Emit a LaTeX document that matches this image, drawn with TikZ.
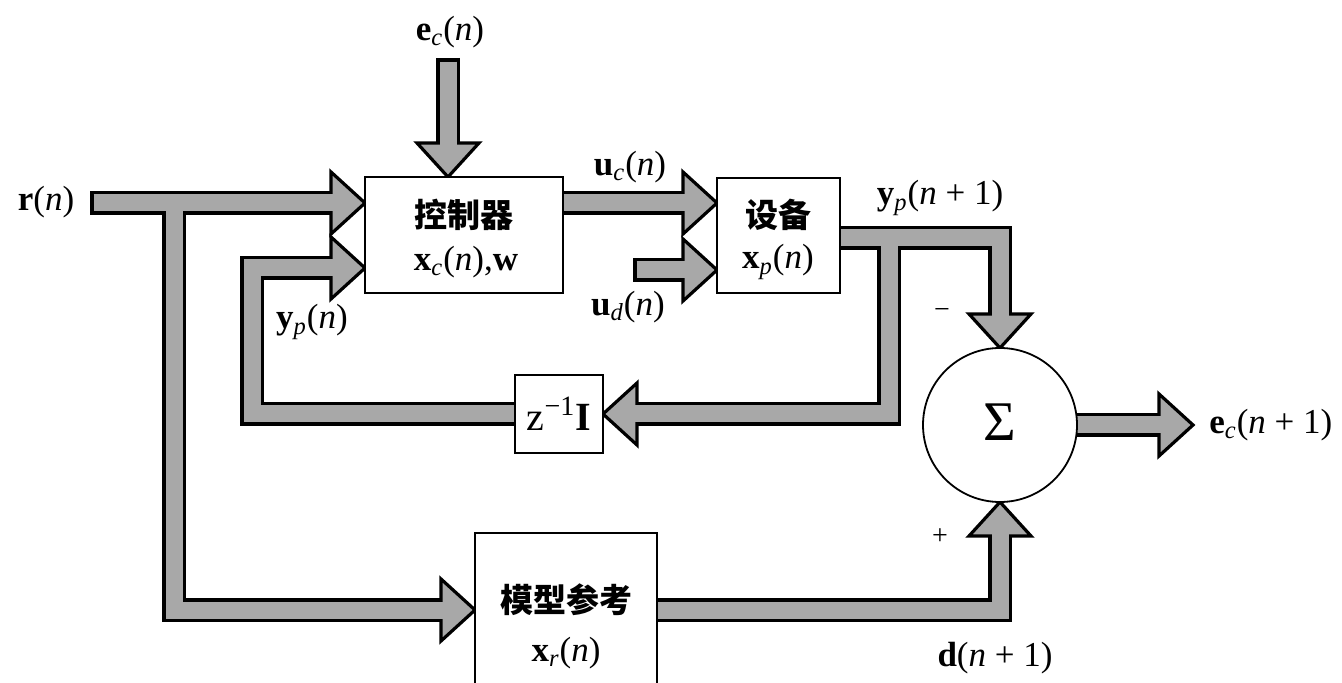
\documentclass[tikz,border=0pt]{standalone}
\usepackage{fontspec}
\setmainfont{Liberation Serif}
\newfontfamily\cjk{Noto Sans CJK SC}
\pgfdeclarelayer{blk}
\pgfdeclarelayer{hd}
\pgfdeclarelayer{gr}
\pgfsetlayers{blk,hd,gr,main}
\definecolor{shaft}{gray}{0.66}
\tikzset{
  outer/.style={draw=black,line width=12pt,line join=miter},
  inner/.style={draw=shaft,line width=8.5pt,line join=miter},
  fathead/.pic={\draw[fill=shaft,draw=black,line width=1.6pt,line join=miter]
     (0,0) -- (-34,31) -- (-34,-31) -- cycle;},
  box/.style={draw=black,line width=1.1pt,fill=white,inner sep=0pt,outer sep=0pt},
  lab/.style={font=\fontsize{17.5}{19}\selectfont,inner sep=1pt},
  zh/.style={font=\cjk\bfseries\fontsize{16.5}{18}\selectfont,inner sep=0pt},
  sgn/.style={font=\fontsize{14}{15}\selectfont,inner sep=0pt},
}
\newcommand\fatline[3]{%
  \begin{pgfonlayer}{blk}\draw[outer,#2] #3;\end{pgfonlayer}%
  \begin{pgfonlayer}{gr}\draw[inner,#1] #3;\end{pgfonlayer}}
\newcommand\bsub[2]{\textbf{#1}\textsubscript{\textit{#2}}}
\begin{document}
\begin{tikzpicture}[x=0.5pt,y=-0.5pt]
\useasboundingbox (0,0) rectangle (1342,683);

% blocks
\node[box,minimum width=99pt,minimum height=58pt] (ctrl) at (464,235) {};
\node[box,minimum width=61.5pt,minimum height=57.5pt] (plant) at (778.5,235.5) {};
\node[box,minimum width=44pt,minimum height=39pt] (zbox) at (559,414) {};
\node[box,minimum width=91pt,minimum height=100pt] (model) at (566,633) {};
\node[box,circle,line width=0.9pt,minimum size=77pt] (sum) at (1000,425) {};

% block texts
\node[zh] (tctrl) at (464,215) {控制器};
\node[lab] (xc) at (466,262) {\bsub{x}{c}(\textit{n}),\textbf{w}};
\node[zh] (tplant) at (778,215) {设备};
\node[lab] (xp) at (778,262) {\bsub{x}{p}(\textit{n})};
\node[font=\fontsize{20}{22}\selectfont,inner sep=0pt] (tz) at (559,414) {z\textsuperscript{−1}\textbf{I}};
\node[zh] (tmodel) at (566,600) {模型参考};
\node[lab] (xr) at (566,653) {\bsub{x}{r}(\textit{n})};
\node[font=\fontsize{28}{30}\selectfont,inner sep=0pt] (sig) at (1000,422) {Σ};

% signal labels
\node[lab] (ecl) at (450,32) {\bsub{e}{c}(\textit{n})};
\node[lab] (rl) at (46,202) {\textbf{r}(\textit{n})};
\node[lab] (ucl) at (630,167) {\bsub{u}{c}(\textit{n})};
\node[lab] (udl) at (628,307) {\bsub{u}{d}(\textit{n})};
\node[lab] (ypl) at (312,322) {\bsub{y}{p}(\textit{n})};
\node[lab] (yp1l) at (940,198) {\bsub{y}{p}(\textit{n} + 1)};
\node[lab,anchor=west] (ec1l) at (1207,425) {\bsub{e}{c}(\textit{n} + 1)};
\node[lab] (dl) at (995,658) {\textbf{d}(\textit{n} + 1)};
\node[sgn] (minus) at (942,314) {−};
\node[sgn] (plus) at (940,537) {+};

% connector points
\coordinate (ecin) at (448,58);
\coordinate (rin) at (90,203);
\coordinate (rb) at (174,203);
\coordinate (mi) at (174,610);
\coordinate (fbc) at (252,268);
\coordinate (udin) at (633,270);
\coordinate (py) at (840,238);
\coordinate (pb) at (889,238);
\coordinate (eout) at (1193,425);

% fat connectors
\fatline{shorten <=1.8pt,shorten >=14pt}{shorten >=17pt}{(ecin) -- (ecin |- ctrl.north)}
\fatline{shorten <=1.8pt,shorten >=14pt}{shorten >=17pt}{(rin) -- (rin -| ctrl.west)}
\fatline{shorten >=14pt}{shorten >=17pt}{(rb) -- (mi) -- (mi -| model.west)}
\fatline{shorten >=14pt}{shorten >=17pt}{(zbox.west) -- (fbc |- zbox.west) -- (fbc) -- (fbc -| ctrl.west)}
\fatline{shorten >=14pt}{shorten >=17pt}{(rin -| ctrl.east) -- (rin -| plant.west)}
\fatline{shorten <=1.8pt,shorten >=14pt}{shorten >=17pt}{(udin) -- (udin -| plant.west)}
\fatline{shorten >=14pt}{shorten >=17pt}{(py) -- (py -| sum.north) -- (sum.north)}
\fatline{shorten >=14pt}{shorten >=17pt}{(pb) -- (pb |- zbox.east) -- (zbox.east)}
\fatline{shorten >=14pt}{shorten >=17pt}{(sum.east) -- (eout)}
\fatline{shorten >=14pt}{shorten >=17pt}{(mi -| model.east) -- (mi -| sum.south) -- (sum.south)}

% arrow heads
\begin{pgfonlayer}{hd}
\pic[rotate=-90] at (ecin |- ctrl.north) {fathead};
\pic at (rin -| ctrl.west) {fathead};
\pic at (mi -| model.west) {fathead};
\pic at (fbc -| ctrl.west) {fathead};
\pic at (rin -| plant.west) {fathead};
\pic at (udin -| plant.west) {fathead};
\pic[rotate=-90] at (sum.north) {fathead};
\pic[rotate=180] at (zbox.east) {fathead};
\pic at (eout) {fathead};
\pic[rotate=90] at (sum.south) {fathead};
\end{pgfonlayer}
\end{tikzpicture}
\end{document}
